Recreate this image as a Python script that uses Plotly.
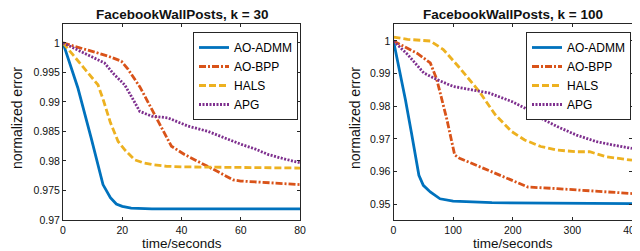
import plotly.graph_objects as go

# ---- data: left panel (k = 30) ----
t30_admm = [0, 2, 5, 9.5, 13.5, 16, 18, 20, 23, 30, 80]
e30_admm = [1.0, 0.9968, 0.9924, 0.9839, 0.9760, 0.9738, 0.9727, 0.9723, 0.9720, 0.9719, 0.9719]
t30_bpp = [0, 5, 10, 15, 19.7, 22, 26, 31, 36.6, 41, 47.8, 53, 57.4, 60, 70, 80]
e30_bpp = [1.0, 0.9993, 0.9985, 0.9978, 0.9969, 0.9955, 0.9925, 0.9878, 0.9825, 0.9811, 0.9794, 0.9780, 0.9768, 0.9766, 0.9763, 0.9760]
t30_hals = [0, 3, 6, 9, 11.8, 13.5, 16, 18.6, 21, 24.2, 27, 30, 35, 40, 60, 80]
e30_hals = [1.0, 0.9982, 0.9964, 0.9946, 0.9929, 0.9905, 0.9865, 0.9833, 0.9818, 0.9802, 0.9797, 0.9794, 0.9791, 0.9790, 0.9789, 0.9788]
t30_apg = [0, 5, 10, 14, 17, 20.8, 23, 25.9, 29.9, 35.4, 42.2, 49, 54.6, 60.2, 65, 69.2, 75, 80]
e30_apg = [1.0, 0.9988, 0.9977, 0.9966, 0.9948, 0.9929, 0.9910, 0.9884, 0.9876, 0.9873, 0.9859, 0.9850, 0.9839, 0.9828, 0.9820, 0.9811, 0.9803, 0.9797]

# ---- data: right panel (k = 100) ----
t100_admm = [0, 10, 20, 30, 42.6, 50, 61.7, 78, 100, 165, 260, 400]
e100_admm = [1.0, 0.9915, 0.9820, 0.9720, 0.9589, 0.9558, 0.9538, 0.9517, 0.9510, 0.9505, 0.9503, 0.9502]
t100_bpp = [0, 20, 40, 61.7, 72.6, 89, 102.6, 110.8, 165.3, 198, 225.4, 274.5, 400]
e100_bpp = [1.0, 0.9980, 0.9962, 0.9933, 0.9882, 0.9764, 0.9651, 0.9641, 0.9600, 0.9574, 0.9553, 0.9548, 0.9533]
t100_hals = [0, 23.5, 61.7, 83.5, 110.8, 143.5, 170.8, 198, 220, 247, 274.5, 307, 329, 356, 400]
e100_hals = [1.0012, 1.0005, 1.0, 0.9974, 0.9918, 0.9846, 0.9774, 0.9723, 0.9697, 0.9677, 0.9666, 0.9661, 0.9661, 0.9646, 0.9635]
t100_apg = [0, 23.5, 50.8, 72.6, 99.9, 132.6, 160, 198, 220, 247, 274.5, 307, 340, 367, 400]
e100_apg = [1.0, 0.9959, 0.9902, 0.9882, 0.9861, 0.9851, 0.9841, 0.9815, 0.9795, 0.9764, 0.9738, 0.9712, 0.9692, 0.9682, 0.9671]

names = ["AO-ADMM", "AO-BPP", "HALS", "APG"]
colors = ["#0072BD", "#D95319", "#EDB120", "#7E2F8E"]
dashes = ["solid", "7px,2px,2px,2px", "7px,3px", "2px,1.5px"]
titles = ["FacebookWallPosts, k = 30", "FacebookWallPosts, k = 100"]
xlabel = "time/seconds"
ylabel = "normalized error"
xticks30 = [0, 20, 40, 60, 80]
yticks30 = [0.97, 0.975, 0.98, 0.985, 0.99, 0.995, 1.0]
yticklabels30 = ["0.97", "0.975", "0.98", "0.985", "0.99", "0.995", "1"]
xticks100 = [0, 100, 200, 300, 400]
yticks100 = [0.95, 0.96, 0.97, 0.98, 0.99, 1.0]
yticklabels100 = ["0.95", "0.96", "0.97", "0.98", "0.99", "1"]

FONT = "Liberation Sans, Arial, Helvetica, sans-serif"
W, H = 640, 251

fig = go.Figure()
left = [(t30_admm, e30_admm), (t30_bpp, e30_bpp), (t30_hals, e30_hals), (t30_apg, e30_apg)]
right = [(t100_admm, e100_admm), (t100_bpp, e100_bpp), (t100_hals, e100_hals), (t100_apg, e100_apg)]
for i, (x, y) in enumerate(left):
    fig.add_trace(go.Scatter(x=x, y=y, mode="lines", name=names[i], xaxis="x", yaxis="y",
                             legend="legend",
                             line=dict(color=colors[i], width=2.8, dash=dashes[i])))
for i, (x, y) in enumerate(right):
    fig.add_trace(go.Scatter(x=x, y=y, mode="lines", name=names[i], xaxis="x2", yaxis="y2",
                             legend="legend2",
                             line=dict(color=colors[i], width=2.8, dash=dashes[i])))

L1, R1 = 55, 292
L2, R2 = 385.5, 624
TOP, BOT = 16, 212
ydom = [(H - BOT) / H, (H - TOP) / H]
axcommon = dict(showline=True, linecolor="#262626", linewidth=1, mirror="ticks", automargin=False,
                ticks="inside", ticklen=3, tickcolor="#262626", showgrid=False, zeroline=False,
                tickfont=dict(family=FONT, size=10.5, color="#111111"))

def ann(text, x, y, size, angle=0):
    return dict(text=text, x=x / W, y=1 - y / H, xref="paper", yref="paper", showarrow=False,
                xanchor="center", yanchor="middle", textangle=angle,
                font=dict(family=FONT, size=size, color="#111111"))

fig.update_layout(
    width=W, height=H,
    margin=dict(l=0, r=0, t=0, b=0, autoexpand=False),
    plot_bgcolor="white", paper_bgcolor="white",
    font=dict(family=FONT, color="#111111"),
    xaxis=dict(domain=[L1 / W, R1 / W], range=[0, 80], tickvals=xticks30, anchor="y", **axcommon),
    yaxis=dict(domain=ydom, range=[0.97, 1.0032], tickvals=yticks30, ticktext=yticklabels30, anchor="x", **axcommon),
    xaxis2=dict(domain=[L2 / W, R2 / W], range=[0, 400], tickvals=xticks100, anchor="y2", **axcommon),
    yaxis2=dict(domain=ydom, range=[0.9452, 1.0052], tickvals=yticks100, ticktext=yticklabels100, anchor="x2", **axcommon),
    legend=dict(x=(R1 - 2) / W, xanchor="right", y=1 - 24 / H, yanchor="top",
                bgcolor="white", bordercolor="#262626", borderwidth=1,
                font=dict(family=FONT, size=12, color="black"), tracegroupgap=0),
    legend2=dict(x=(R2 - 1) / W, xanchor="right", y=1 - 24 / H, yanchor="top",
                 bgcolor="white", bordercolor="#262626", borderwidth=1,
                 font=dict(family=FONT, size=12, color="black"), tracegroupgap=0),
    annotations=[
        ann("<b>" + titles[0] + "</b>", (L1 + R1) / 2, 7, 13.5),
        ann("<b>" + titles[1] + "</b>", (L2 + R2) / 2, 7, 13.5),
        ann(xlabel, (L1 + R1) / 2, 235, 13.5),
        ann(xlabel, (L2 + R2) / 2, 235, 13.5),
        ann(ylabel, 9, 110, 14, -90),
        ann(ylabel, 347, 110, 14, -90),
    ],
)

fig.write_html("out.html")
